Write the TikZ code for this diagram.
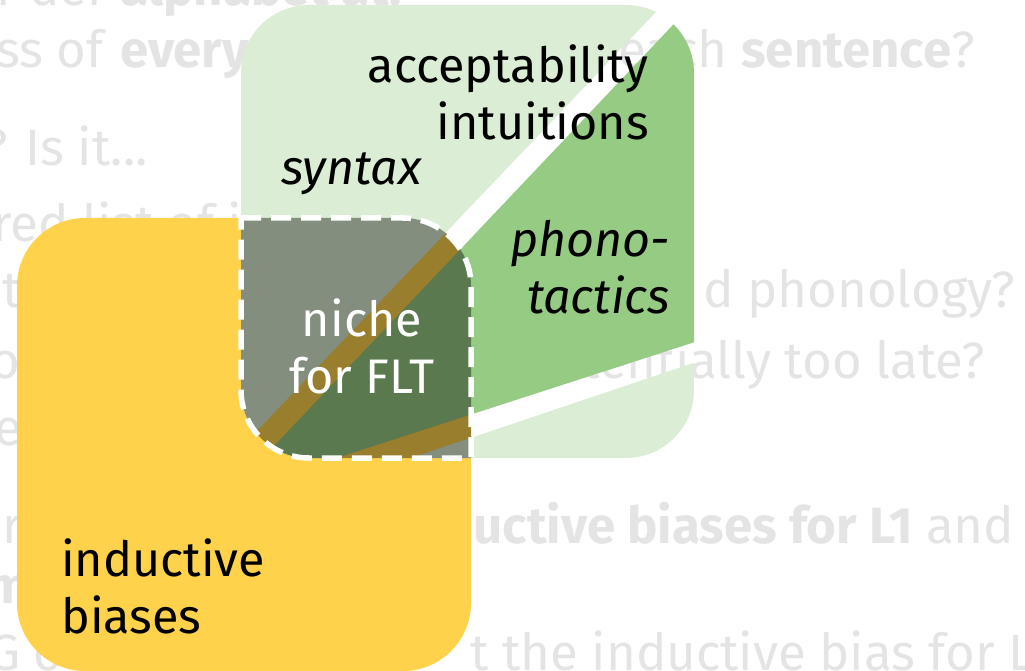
\documentclass[tikz,border=0pt]{standalone}
\usepackage{fontspec}
\setmainfont{Fira Sans}
\usetikzlibrary{positioning}
\definecolor{slidegray}{HTML}{E4E4E4}
\definecolor{biasyellow}{HTML}{FFD24B}
\definecolor{synlight}{HTML}{DBEDD5}
\definecolor{phongreen}{HTML}{96CB84}
\tikzset{
    slide text/.style={
        font=\fontsize{51}{60}\selectfont, text=slidegray,
        inner sep=0pt, anchor=base west
    },
    label text/.style={
        font=\fontsize{48.5}{57}\selectfont, text=black,
        inner sep=0pt
    },
    label italic/.style={
        label text, font=\fontsize{48.5}{57}\selectfont\itshape
    },
    niche border/.style={
        draw=white, line width=5.5pt,
        dash pattern=on 20pt off 10pt
    },
}

\begin{document}
\begin{tikzpicture}[x=1pt, y=-1pt]
    \useasboundingbox (0,0) rectangle (1025,671);
    \clip (0,0) rectangle (1025,671);

    % faded slide text behind the diagram
    \node[slide text] (t0) at (-4,6) {r der \textbf{alphabet at.}};
    \node[slide text] (t1a) at (-4,68) {ss of \textbf{every}};
    \node[slide text, anchor=base east] (t1b) at (975,68) {each \textbf{sentence}?};
    \node[slide text] (t2) at (-16,166) {? Is it...};
    \node[slide text] (t3) at (-8,241) {red list of i};
    \node[slide text, anchor=base east] (t4a) at (21,307) {nt};
    \node[slide text, anchor=base east] (t4b) at (1015,307) {d phonology?};
    \node[slide text, anchor=base east] (t5a) at (20,378) {o};
    \node[slide text, anchor=base east] (t5b) at (985,378) {potentially too late?};
    \node[slide text] (t6) at (-6,445) {e};
    \node[slide text, anchor=base east] (t7a) at (22,543) {er};
    \node[slide text] (t7b) at (399,543) {\textbf{inductive biases for L1} and};
    \node[slide text] (t8) at (-14,603) {\textbf{m}};
    \node[slide text] (t9a) at (-12,670) {G o};
    \node[slide text] (t9b) at (470,670) {t the inductive bias for L};

    % inductive biases
    \fill[biasyellow, rounded corners=68pt] (17,218) rectangle (471,671);

    % evidence square, cut in three by two gaps
    \begin{scope}
        \clip[rounded corners=68pt] (241,5) rectangle (694,458);
        \fill[synlight] (715,-50) -- (172,520) -- (100,520) -- (100,-50) -- cycle;
        \fill[phongreen] (744,-50) -- (800,-50) -- (800,308) -- (230,492.5) -- cycle;
        \fill[synlight] (800,327) -- (150,546) -- (800,546) -- cycle;
    \end{scope}

    % overlap is darkened
    \begin{scope}
        \clip[rounded corners=68pt] (17,218) rectangle (471,671);
        \fill[black, opacity=0.4, rounded corners=68pt] (241,5) rectangle (694,458);
    \end{scope}
    \draw[niche border] (241,218) -- (403,218)
        arc[start angle=90, end angle=0, radius=68pt] -- (471,458)
        -- (309,458) arc[start angle=270, end angle=180, radius=68pt] -- cycle;

    % labels
    \node[label text, align=right, anchor=base east] (accept) at (649,140) {acceptability\\intuitions};
    \node[label italic, anchor=base west] (syntax) at (281,185) {syntax};
    \node[label italic, align=right, anchor=base east] (phono) at (670,313) {phono-\\tactics};
    \node[label text, align=center, anchor=base, text=white] (niche) at (362,393) {niche\\for FLT};
    \node[label text, align=left, anchor=base west] (bias) at (61,633) {inductive\\biases};
\end{tikzpicture}
\end{document}
